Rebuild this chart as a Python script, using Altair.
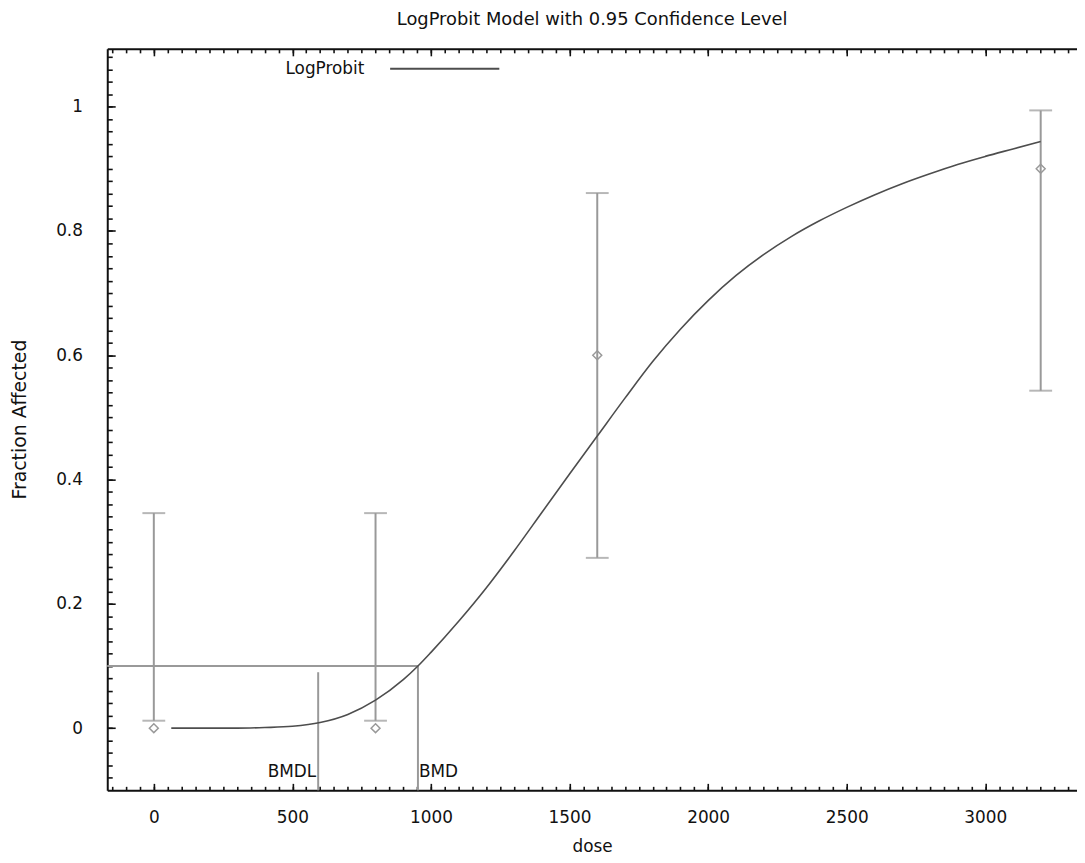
import altair as alt
import pandas as pd

TITLE = "LogProbit Model with 0.95 Confidence Level"
X_TITLE = "dose"
Y_TITLE = "Fraction Affected"
MODEL = "LogProbit"

# observed data with 95% confidence limits
obs_dose = [0, 800, 1600, 3200]
obs_frac = [0.0, 0.0, 0.6, 0.9]
ci_lo = [0.012, 0.012, 0.274, 0.543]
ci_hi = [0.346, 0.346, 0.861, 0.994]

# fitted LogProbit curve
curve_dose = [63, 200, 300, 400, 500, 600, 700, 800, 900, 953, 1000, 1100, 1200,
              1300, 1400, 1500, 1600, 1700, 1800, 1900, 2000, 2100, 2200, 2300,
              2400, 2500, 2600, 2700, 2800, 2900, 3000, 3100, 3200]
curve_frac = [0.0, 0.0, 0.0, 0.001, 0.003, 0.009, 0.022, 0.045, 0.078, 0.100, 0.122,
              0.172, 0.226, 0.285, 0.347, 0.409, 0.470, 0.531, 0.590, 0.642, 0.688,
              0.728, 0.762, 0.791, 0.816, 0.838, 0.858, 0.876, 0.892, 0.907, 0.920,
              0.932, 0.944]

BMD = 953
BMDL = 593
BMR = 0.1
BMDL_TOP = 0.09
LABEL_Y = -0.079

X_DOMAIN = [-168, 3331]
Y_DOMAIN = [-0.1, 1.093]
x_major = [0, 500, 1000, 1500, 2000, 2500, 3000]
x_minor = list(range(-150, 3331, 50))
y_major = [0, 0.2, 0.4, 0.6, 0.8, 1]
y_minor = [round(-0.08 + 0.02 * i, 2) for i in range(59)]

FONT = "DejaVu Sans"
BLACK = "#111111"
GRAY = "#999999"
CURVE = "#4d4d4d"

obs = pd.DataFrame({"dose": obs_dose, "frac": obs_frac, "lo": ci_lo, "hi": ci_hi})
curve = pd.DataFrame({"dose": curve_dose, "frac": curve_frac, "model": [MODEL] * len(curve_dose)})
vrules = pd.DataFrame({"dose": [BMDL, BMD], "y0": [Y_DOMAIN[0]] * 2, "y1": [BMDL_TOP, BMR]})
hrule = pd.DataFrame({"x0": [X_DOMAIN[0]], "x1": [BMD], "y": [BMR]})
lab_l = pd.DataFrame({"dose": [BMDL], "y": [LABEL_Y], "t": ["BMDL"]})
lab_r = pd.DataFrame({"dose": [BMD], "y": [LABEL_Y], "t": ["BMD"]})

xs = alt.Scale(domain=X_DOMAIN, nice=False, zero=False)
ys = alt.Scale(domain=Y_DOMAIN, nice=False, zero=False)


def tick_axis(orient, values, size):
    return alt.Axis(orient=orient, values=values, domain=False, labels=False, grid=False,
                    ticks=True, tickSize=size, offset=-size, tickWidth=1.6,
                    tickColor=BLACK, title=None)


def frame_axis(orient):
    return alt.Axis(orient=orient, domain=True, domainWidth=2, domainColor=BLACK,
                    ticks=False, labels=False, grid=False, title=None)


x_main = alt.Axis(orient="bottom", values=x_major, format="d", domain=True, domainWidth=2,
                  domainColor=BLACK, ticks=False, grid=False, labelPadding=19,
                  labelFontSize=17, labelFont=FONT, labelColor=BLACK,
                  title=X_TITLE, titleFont=FONT, titleFontSize=17, titleFontWeight="normal",
                  titleColor=BLACK, titleBaseline="alphabetic", titleY=62)
y_main = alt.Axis(orient="left", values=y_major, format="~g", domain=True, domainWidth=2,
                  domainColor=BLACK, ticks=False, grid=False, labelPadding=25,
                  labelFontSize=17, labelFont=FONT, labelColor=BLACK,
                  title=Y_TITLE, titleFont=FONT, titleFontSize=19, titleFontWeight="normal",
                  titleColor=BLACK, titleAngle=-90, titleBaseline="middle",
                  titleAlign="center", titleX=-88, titleY=373)

axis_pairs = [
    (x_main, y_main),
    (tick_axis("bottom", x_major, 7), tick_axis("left", y_major, 8)),
    (tick_axis("bottom", x_minor, 4), tick_axis("left", y_minor, 5)),
    (frame_axis("top"), None),
    (tick_axis("top", x_major, 7), None),
    (tick_axis("top", x_minor, 4), None),
]

layers = []
for xa, ya in axis_pairs:
    enc = dict(x=alt.X("dose:Q", scale=xs, axis=xa))
    if ya is None:
        enc["y"] = alt.Y("frac:Q", scale=ys, axis=None)
    else:
        enc["y"] = alt.Y("frac:Q", scale=ys, axis=ya)
    layers.append(alt.Chart(obs).mark_point(opacity=0).encode(**enc))

hline = alt.Chart(hrule).mark_rule(color=GRAY, strokeWidth=2).encode(
    x=alt.X("x0:Q", scale=xs, axis=None), x2="x1:Q",
    y=alt.Y("y:Q", scale=ys, axis=None))
vline = alt.Chart(vrules).mark_rule(color=GRAY, strokeWidth=2).encode(
    x=alt.X("dose:Q", scale=xs, axis=None),
    y=alt.Y("y0:Q", scale=ys, axis=None), y2="y1:Q")
err = alt.Chart(obs).mark_rule(color=GRAY, strokeWidth=2).encode(
    x=alt.X("dose:Q", scale=xs, axis=None),
    y=alt.Y("lo:Q", scale=ys, axis=None), y2="hi:Q")
cap_lo = alt.Chart(obs).mark_tick(color=GRAY, orient="horizontal", size=23, thickness=2).encode(
    x=alt.X("dose:Q", scale=xs, axis=None), y=alt.Y("lo:Q", scale=ys, axis=None))
cap_hi = alt.Chart(obs).mark_tick(color=GRAY, orient="horizontal", size=23, thickness=2).encode(
    x=alt.X("dose:Q", scale=xs, axis=None), y=alt.Y("hi:Q", scale=ys, axis=None))
pts = alt.Chart(obs).mark_point(shape="diamond", filled=False, size=81, color=GRAY,
                                strokeWidth=1.5, opacity=1).encode(
    x=alt.X("dose:Q", scale=xs, axis=None), y=alt.Y("frac:Q", scale=ys, axis=None))
line = alt.Chart(curve).mark_line(strokeWidth=1.6, interpolate="monotone").encode(
    x=alt.X("dose:Q", scale=xs, axis=None),
    y=alt.Y("frac:Q", scale=ys, axis=None),
    color=alt.Color("model:N", scale=alt.Scale(domain=[MODEL], range=[CURVE]),
                    legend=alt.Legend(title=None, orient="none", legendX=284, legendY=-36,
                                      symbolType="stroke", symbolSize=12100,
                                      symbolStrokeWidth=2, labelAlign="right",
                                      labelOffset={"expr": "-137"}, labelFontSize=17,
                                      labelFont=FONT, labelColor=BLACK, padding=0)))
txt_l = alt.Chart(lab_l).mark_text(align="right", baseline="alphabetic", dx=-2, fontSize=17,
                                   font=FONT, color=BLACK).encode(
    x=alt.X("dose:Q", scale=xs, axis=None), y=alt.Y("y:Q", scale=ys, axis=None), text="t:N")
txt_r = alt.Chart(lab_r).mark_text(align="left", baseline="alphabetic", dx=1, fontSize=17,
                                   font=FONT, color=BLACK).encode(
    x=alt.X("dose:Q", scale=xs, axis=None), y=alt.Y("y:Q", scale=ys, axis=None), text="t:N")

chart = alt.layer(*layers, hline, vline, err, cap_lo, cap_hi, pts, line, txt_l, txt_r).resolve_axis(
    x="independent", y="independent"
).properties(
    width=977, height=747,
    title=alt.Title(TITLE, fontSize=18, font=FONT, fontWeight="normal", color=BLACK,
                    baseline="alphabetic", offset=21, dy=51, anchor="middle", frame="group"),
    autosize=alt.AutoSizeParams(type="none"),
    padding={"left": 100, "top": 38, "right": 0, "bottom": 62},
).configure_view(stroke=None).configure(background="white")

chart.save("out.html", embed_options={"renderer": "svg", "actions": False})
